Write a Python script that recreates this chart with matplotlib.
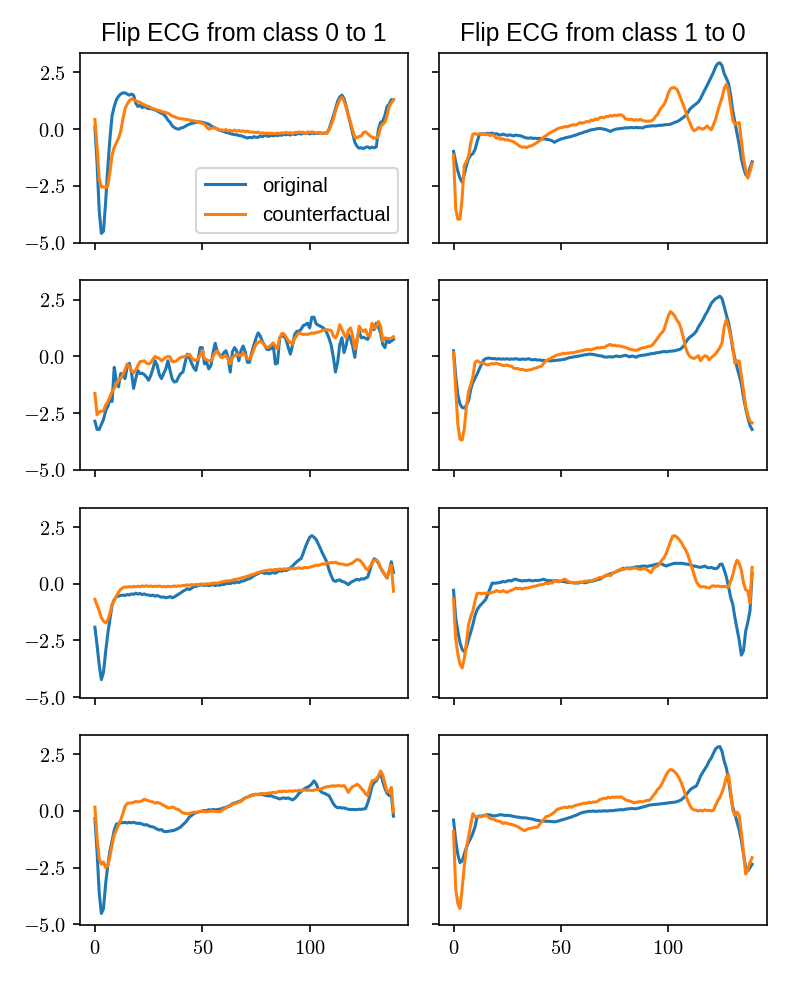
import matplotlib
matplotlib.use("Agg")
import matplotlib.pyplot as plt
from matplotlib.ticker import FuncFormatter

plt.rcParams["font.family"] = ["Liberation Sans", "DejaVu Sans"]
plt.rcParams["mathtext.fontset"] = "cm"
plt.rcParams["mathtext.default"] = "rm"

# ECG samples (140 points each)
# left column: class 0 -> 1, right column: class 1 -> 0
orig_l1 = [0.10, -1.5, -3.6, -4.6, -4.5, -3.2, -1.7, -0.4, 0.6, 1.0,
           1.3, 1.45, 1.55, 1.6, 1.6, 1.55, 1.5, 1.55, 1.5, 1.15,
           1.0, 1.05, 0.95, 1.0, 0.95, 0.9, 0.92, 0.87, 0.85, 0.8,
           0.75, 0.7, 0.65, 0.55, 0.4, 0.3, 0.15, 0.07, 0.02, 0.0,
           0.05, 0.07, 0.12, 0.18, 0.22, 0.25, 0.27, 0.3, 0.32, 0.32,
           0.3, 0.28, 0.25, 0.22, 0.15, 0.1, 0.05, 0.0, -0.05, -0.08,
           -0.1, -0.14, -0.16, -0.2, -0.22, -0.24, -0.25, -0.28, -0.29, -0.32,
           -0.36, -0.39, -0.36, -0.38, -0.33, -0.36, -0.36, -0.3, -0.33, -0.28,
           -0.29, -0.32, -0.27, -0.3, -0.26, -0.29, -0.25, -0.27, -0.22, -0.25,
           -0.22, -0.26, -0.2, -0.24, -0.22, -0.18, -0.22, -0.17, -0.2, -0.17,
           -0.21, -0.16, -0.2, -0.18, -0.19, -0.16, -0.19, -0.17, -0.17, 0.0,
           0.3, 0.58, 0.9, 1.23, 1.42, 1.5, 1.35, 1.0, 0.6, 0.2,
           -0.2, -0.58, -0.75, -0.84, -0.82, -0.86, -0.8, -0.78, -0.84, -0.79,
           -0.82, -0.78, 0.0, 0.3, 0.35, 0.6, 1.0, 1.1, 1.3, 1.3]
cf_l1 = [0.43, -0.8, -2.2, -2.55, -2.55, -2.58, -2.5, -1.9, -1.15, -0.8,
         -0.6, -0.4, -0.1, 0.43, 0.9, 1.1, 1.25, 1.33, 1.3, 1.25,
         1.22, 1.18, 1.12, 1.08, 1.02, 1.0, 0.95, 0.9, 0.88, 0.84,
         0.82, 0.78, 0.76, 0.73, 0.7, 0.65, 0.58, 0.55, 0.5, 0.48,
         0.46, 0.45, 0.43, 0.43, 0.4, 0.38, 0.37, 0.35, 0.33, 0.3,
         0.25, 0.22, 0.1, 0.0, 0.03, 0.07, 0.04, 0.02, -0.05, -0.03,
         -0.06, -0.02, -0.08, -0.05, -0.1, -0.04, -0.09, -0.06, -0.1, -0.07,
         -0.12, -0.08, -0.13, -0.12, -0.14, -0.15, -0.13, -0.18, -0.16, -0.19,
         -0.17, -0.2, -0.18, -0.19, -0.2, -0.17, -0.19, -0.16, -0.18, -0.14,
         -0.18, -0.15, -0.2, -0.14, -0.16, -0.12, -0.15, -0.13, -0.2, -0.12,
         -0.15, -0.12, -0.14, -0.18, -0.14, -0.17, -0.19, -0.17, -0.18, -0.05,
         0.2, 0.43, 0.8, 1.08, 1.3, 1.41, 1.25, 0.95, 0.6, 0.3,
         -0.05, -0.36, -0.38, -0.32, -0.3, -0.15, -0.12, -0.2, -0.29, -0.35,
         -0.4, -0.38, -0.3, 0.1, 0.22, 0.3, 0.6, 1.0, 1.15, 1.3]
orig_r1 = [-0.98, -1.44, -1.85, -2.16, -2.34, -2.0, -1.6, -1.3, -1.15, -1.08,
           -0.9, -0.55, -0.25, -0.2, -0.22, -0.2, -0.18, -0.2, -0.17, -0.22,
           -0.2, -0.24, -0.26, -0.22, -0.25, -0.28, -0.25, -0.27, -0.3, -0.26,
           -0.28, -0.29, -0.32, -0.36, -0.39, -0.4, -0.38, -0.41, -0.4, -0.42,
           -0.4, -0.43, -0.43, -0.44, -0.46, -0.48, -0.52, -0.58, -0.52, -0.48,
           -0.43, -0.42, -0.38, -0.36, -0.34, -0.32, -0.28, -0.26, -0.22, -0.19,
           -0.16, -0.12, -0.1, -0.06, -0.03, -0.02, 0.0, 0.02, 0.03, 0.02,
           0.0, -0.02, -0.06, -0.1, -0.05, -0.02, 0.01, 0.02, 0.03, 0.04,
           0.06, 0.05, 0.07, 0.07, 0.06, 0.08, 0.06, 0.07, 0.05, 0.1,
           0.12, 0.13, 0.14, 0.15, 0.14, 0.16, 0.17, 0.17, 0.19, 0.2,
           0.2, 0.22, 0.26, 0.3, 0.33, 0.38, 0.45, 0.52, 0.6, 0.72,
           0.88, 0.97, 1.05, 1.12, 1.2, 1.35, 1.55, 1.73, 1.92, 2.12,
           2.31, 2.5, 2.75, 2.89, 2.93, 2.8, 2.45, 2.25, 2.02, 1.5,
           0.8, 0.29, -0.2, -0.7, -1.3, -1.7, -2.0, -2.1, -1.7, -1.44]
cf_r1 = [-1.15, -3.5, -3.97, -3.97, -3.03, -1.6, -1.44, -1.2, -0.6, -0.22,
         -0.2, -0.24, -0.2, -0.23, -0.2, -0.24, -0.22, -0.28, -0.25, -0.3,
         -0.4, -0.38, -0.45, -0.42, -0.48, -0.46, -0.5, -0.52, -0.56, -0.62,
         -0.7, -0.76, -0.8, -0.78, -0.82, -0.76, -0.74, -0.7, -0.64, -0.58,
         -0.52, -0.45, -0.35, -0.29, -0.22, -0.16, -0.1, -0.07, 0.0, 0.04,
         0.07, 0.08, 0.12, 0.1, 0.15, 0.17, 0.2, 0.18, 0.24, 0.29,
         0.26, 0.3, 0.34, 0.32, 0.4, 0.38, 0.45, 0.42, 0.5, 0.53,
         0.5, 0.56, 0.55, 0.6, 0.58, 0.62, 0.6, 0.63, 0.63, 0.58,
         0.46, 0.44, 0.42, 0.44, 0.39, 0.42, 0.4, 0.43, 0.38, 0.36,
         0.35, 0.36, 0.36, 0.42, 0.55, 0.65, 0.85, 0.98, 1.08, 1.3,
         1.6, 1.78, 1.83, 1.83, 1.75, 1.55, 1.3, 1.05, 0.8, 0.5,
         0.29, 0.05, -0.07, -0.02, 0.07, 0.03, 0.0, 0.05, 0.14, 0.05,
         -0.03, 0.2, 0.43, 0.8, 1.1, 1.4, 1.8, 1.98, 1.7, 1.01,
         0.4, 0.22, 0.25, 0.29, -0.5, -1.3, -1.8, -2.16, -1.88, -1.52]

orig_l2 = [-2.86, -3.22, -3.22, -3.0, -2.78, -2.4, -2.2, -1.92, -1.99, -0.48,
           -1.1, -1.34, -0.76, -0.76, -0.98, -0.48, -0.3, -0.69, -1.41, -0.98,
           -0.62, -0.76, -0.74, -0.8, -0.91, -1.05, -0.84, -0.55, -0.19, -0.4,
           -0.8, -0.98, -0.75, -0.55, -0.19, -0.62, -1.0, -1.13, -1.1, -0.9,
           -0.75, -0.69, -0.26, 0.1, -0.04, -0.3, -0.5, -0.62, -0.19, 0.39,
           0.39, -0.33, -0.26, -0.55, -0.4, 0.17, 0.58, 0.2, 0.1, -0.04,
           0.17, 0.25, -0.04, -0.69, 0.2, 0.39, 0.25, -0.19, 0.25, 0.46,
           0.2, -0.26, -0.26, 0.17, 0.5, 0.8, 1.04, 0.9, 0.65, 0.5,
           0.32, 0.3, 0.35, 0.53, -0.33, -0.3, 0.82, 0.9, 0.9, 0.75,
           0.4, 0.1, 0.5, 0.97, 1.11, 1.11, 1.2, 1.36, 1.4, 1.47,
           1.26, 1.73, 1.73, 1.44, 1.38, 1.33, 1.28, 1.2, 1.04, 0.8,
           0.5, -0.04, -0.69, -0.26, 0.53, 0.82, 0.17, 0.5, 0.97, 0.8,
           0.46, -0.04, 0.75, 1.11, 0.82, 0.85, 0.8, 0.75, 0.97, 1.33,
           1.18, 1.47, 1.3, 1.04, 0.53, 0.39, 0.75, 0.61, 0.68, 0.75]
cf_l2 = [-1.63, -2.57, -2.45, -2.42, -2.4, -2.15, -2.0, -1.77, -1.55, -1.41,
         -1.2, -1.05, -0.98, -0.8, -0.6, -0.33, -0.45, -0.62, -0.72, -0.6,
         -0.4, -0.23, -0.22, -0.19, -0.3, -0.33, -0.28, -0.12, 0.0, -0.05,
         -0.09, -0.19, -0.12, -0.04, 0.0, -0.02, -0.23, -0.22, -0.2, -0.1,
         -0.04, -0.02, 0.0, 0.05, 0.1, -0.05, -0.15, -0.19, -0.1, 0.03,
         0.27, -0.1, -0.15, -0.19, -0.2, 0.0, 0.17, 0.25, 0.05, -0.05,
         0.0, 0.03, -0.12, -0.33, -0.05, 0.03, 0.1, 0.05, 0.03, 0.17,
         0.05, -0.1, -0.12, 0.05, 0.3, 0.55, 0.62, 0.68, 0.6, 0.5,
         0.39, 0.42, 0.5, 0.6, 0.45, 0.32, 0.8, 1.01, 1.0, 0.85,
         0.7, 0.61, 0.53, 0.8, 0.92, 1.04, 1.0, 0.97, 0.98, 0.97,
         1.0, 1.04, 1.02, 1.06, 1.07, 1.1, 1.15, 1.16, 1.18, 1.16,
         1.15, 0.9, 0.82, 1.0, 1.4, 1.2, 0.97, 0.82, 1.15, 1.26,
         0.9, 0.32, 0.6, 1.33, 1.18, 1.1, 1.18, 0.95, 0.9, 1.47,
         1.25, 1.3, 1.54, 1.33, 0.68, 0.82, 0.8, 0.79, 0.8, 0.87]
orig_r2 = [0.25, -0.84, -1.7, -2.1, -2.25, -2.28, -2.15, -1.95, -1.45, -1.15,
           -0.95, -0.78, -0.55, -0.35, -0.16, -0.1, -0.07, -0.08, -0.1, -0.09,
           -0.12, -0.1, -0.12, -0.11, -0.12, -0.1, -0.13, -0.11, -0.12, -0.1,
           -0.12, -0.14, -0.11, -0.13, -0.12, -0.1, -0.14, -0.15, -0.13, -0.16,
           -0.15, -0.18, -0.17, -0.19, -0.18, -0.2, -0.19, -0.18, -0.17, -0.16,
           -0.15, -0.13, -0.12, -0.08, -0.05, -0.04, -0.02, 0.0, 0.01, 0.03,
           0.05, 0.07, 0.08, 0.1, 0.1, 0.09, 0.07, 0.05, 0.03, 0.02,
           -0.02, -0.03, -0.02, -0.01, -0.03, 0.0, 0.02, -0.01, 0.0, 0.03,
           0.05, 0.02, -0.02, 0.02, 0.0, -0.04, 0.02, 0.04, 0.05, 0.06,
           0.08, 0.1, 0.12, 0.13, 0.15, 0.17, 0.18, 0.2, 0.22, 0.2,
           0.22, 0.23, 0.24, 0.25, 0.28, 0.3, 0.35, 0.45, 0.61, 0.75,
           0.85, 0.92, 1.0, 1.11, 1.3, 1.45, 1.6, 1.8, 1.95, 2.15,
           2.34, 2.45, 2.55, 2.6, 2.66, 2.55, 2.2, 1.83, 1.5, 1.0,
           0.32, -0.1, -0.5, -0.84, -1.2, -1.8, -2.3, -2.7, -3.05, -3.22]
cf_r2 = [0.17, -1.41, -3.0, -3.65, -3.69, -3.2, -2.2, -1.55, -1.25, -0.9,
         -0.26, -0.19, -0.25, -0.29, -0.3, -0.35, -0.38, -0.34, -0.32, -0.33,
         -0.3, -0.34, -0.36, -0.4, -0.4, -0.38, -0.42, -0.43, -0.52, -0.54,
         -0.53, -0.58, -0.57, -0.6, -0.62, -0.6, -0.58, -0.55, -0.52, -0.49,
         -0.45, -0.43, -0.3, -0.19, -0.14, -0.09, -0.04, 0.0, 0.06, 0.08,
         0.1, 0.14, 0.12, 0.15, 0.14, 0.17, 0.16, 0.2, 0.22, 0.24,
         0.25, 0.29, 0.3, 0.31, 0.29, 0.33, 0.35, 0.39, 0.37, 0.4,
         0.39, 0.45, 0.5, 0.53, 0.48, 0.5, 0.46, 0.47, 0.44, 0.42,
         0.4, 0.36, 0.32, 0.3, 0.28, 0.27, 0.3, 0.35, 0.38, 0.39,
         0.42, 0.45, 0.46, 0.55, 0.68, 0.8, 0.95, 1.05, 1.18, 1.5,
         1.8, 1.98, 1.9, 1.78, 1.6, 1.47, 1.2, 0.82, 0.4, 0.15,
         0.0, -0.06, -0.09, -0.03, 0.03, -0.19, -0.05, 0.03, 0.0, -0.14,
         -0.05, 0.03, 0.12, 0.25, 0.39, 0.6, 1.3, 1.62, 1.3, 0.9,
         0.46, -0.3, -0.2, -0.2, -0.84, -1.5, -2.2, -2.6, -2.86, -2.93]

orig_l3 = [-1.92, -2.71, -3.58, -4.23, -3.9, -3.0, -2.2, -1.55, -0.95, -0.7,
           -0.58, -0.55, -0.52, -0.5, -0.52, -0.48, -0.5, -0.45, -0.47, -0.42,
           -0.46, -0.43, -0.48, -0.45, -0.49, -0.5, -0.53, -0.5, -0.55, -0.52,
           -0.56, -0.6, -0.58, -0.62, -0.6, -0.57, -0.62, -0.58, -0.52, -0.46,
           -0.4, -0.33, -0.28, -0.22, -0.26, -0.2, -0.13, -0.12, -0.08, -0.06,
           -0.05, -0.08, -0.05, -0.09, -0.06, -0.04, -0.08, -0.05, -0.07, -0.03,
           -0.04, 0.0, 0.02, 0.0, 0.06, 0.03, 0.08, 0.05, 0.1, 0.12,
           0.15, 0.2, 0.22, 0.28, 0.35, 0.4, 0.45, 0.49, 0.5, 0.45,
           0.48, 0.44, 0.47, 0.5, 0.46, 0.52, 0.58, 0.55, 0.6, 0.58,
           0.62, 0.7, 0.78, 0.88, 0.97, 1.05, 1.11, 1.35, 1.62, 1.85,
           2.05, 2.12, 2.05, 1.95, 1.75, 1.55, 1.33, 1.15, 0.95, 0.61,
           0.35, 0.15, 0.1, 0.15, 0.17, 0.1, 0.08, 0.02, -0.04, 0.05,
           0.1, 0.15, 0.2, 0.16, 0.22, 0.2, 0.25, 0.29, 0.6, 0.9,
           1.1, 1.05, 0.9, 0.7, 0.53, 0.4, 0.25, 0.55, 0.97, 0.5]
cf_l3 = [-0.69, -0.95, -1.2, -1.5, -1.65, -1.73, -1.6, -1.3, -0.9, -0.72,
         -0.55, -0.38, -0.25, -0.18, -0.14, -0.15, -0.13, -0.15, -0.12, -0.14,
         -0.11, -0.13, -0.1, -0.12, -0.09, -0.12, -0.1, -0.13, -0.11, -0.12,
         -0.1, -0.13, -0.12, -0.14, -0.11, -0.13, -0.12, -0.1, -0.12, -0.09,
         -0.11, -0.07, -0.08, -0.05, -0.07, -0.04, -0.06, -0.03, -0.05, -0.02,
         -0.01, -0.03, 0.0, -0.02, 0.01, 0.02, 0.03, 0.02, 0.05, 0.07,
         0.1, 0.11, 0.13, 0.12, 0.16, 0.18, 0.2, 0.22, 0.25, 0.27,
         0.3, 0.33, 0.36, 0.4, 0.42, 0.46, 0.5, 0.52, 0.55, 0.57,
         0.58, 0.6, 0.61, 0.6, 0.63, 0.62, 0.65, 0.63, 0.66, 0.64,
         0.67, 0.65, 0.68, 0.66, 0.68, 0.7, 0.67, 0.7, 0.72, 0.7,
         0.73, 0.76, 0.78, 0.82, 0.8, 0.84, 0.88, 0.86, 0.92, 0.9,
         0.94, 0.92, 0.95, 0.9, 0.88, 0.87, 0.85, 0.82, 0.84, 0.88,
         0.92, 1.0, 1.07, 1.05, 0.97, 0.85, 0.68, 0.61, 0.75, 0.9,
         1.04, 1.05, 0.95, 0.7, 0.55, 0.4, 0.28, 0.6, 0.82, -0.33]
orig_r3 = [-0.29, -1.49, -2.1, -2.6, -2.9, -3.0, -2.8, -2.45, -2.14, -1.8,
           -1.4, -1.15, -1.0, -0.9, -0.8, -0.69, -0.45, -0.2, 0.03, 0.02,
           0.03, 0.04, 0.06, 0.1, 0.08, 0.12, 0.14, 0.12, 0.18, 0.2,
           0.16, 0.14, 0.12, 0.14, 0.13, 0.16, 0.14, 0.12, 0.15, 0.14,
           0.15, 0.17, 0.2, 0.15, 0.13, 0.14, 0.12, 0.14, 0.13, 0.12,
           0.1, 0.1, 0.08, 0.06, 0.06, 0.05, 0.04, 0.03, 0.03, 0.05,
           0.06, 0.04, 0.06, 0.09, 0.1, 0.12, 0.15, 0.18, 0.2, 0.25,
           0.32, 0.36, 0.4, 0.44, 0.46, 0.5, 0.55, 0.58, 0.62, 0.68,
           0.67, 0.7, 0.68, 0.7, 0.72, 0.75, 0.74, 0.76, 0.78, 0.78,
           0.76, 0.78, 0.8, 0.82, 0.85, 0.87, 0.88, 0.87, 0.82, 0.78,
           0.82, 0.85, 0.88, 0.9, 0.9, 0.9, 0.9, 0.89, 0.87, 0.86,
           0.84, 0.8, 0.78, 0.76, 0.74, 0.72, 0.75, 0.78, 0.72, 0.7,
           0.72, 0.68, 0.66, 0.7, 0.85, 0.87, 0.61, 0.3, -0.12, -0.6,
           -0.91, -1.5, -2.0, -2.5, -3.15, -2.95, -2.1, -1.7, -1.2, 0.45]
cf_r3 = [-0.69, -2.42, -3.1, -3.55, -3.72, -3.3, -2.6, -1.8, -1.45, -1.2,
         -0.76, -0.43, -0.42, -0.44, -0.42, -0.43, -0.4, -0.42, -0.38, -0.36,
         -0.3, -0.34, -0.36, -0.3, -0.35, -0.38, -0.32, -0.29, -0.25, -0.19,
         -0.22, -0.2, -0.24, -0.2, -0.19, -0.18, -0.15, -0.12, -0.11, -0.08,
         -0.05, -0.04, -0.02, 0.03, 0.0, 0.04, 0.03, 0.14, 0.1, 0.08,
         0.12, 0.17, 0.2, 0.12, 0.08, 0.05, 0.03, 0.05, 0.06, 0.08,
         0.06, 0.12, 0.1, 0.14, 0.12, 0.16, 0.2, 0.22, 0.28, 0.26,
         0.32, 0.36, 0.39, 0.35, 0.45, 0.49, 0.55, 0.6, 0.65, 0.62,
         0.66, 0.68, 0.65, 0.67, 0.7, 0.68, 0.65, 0.63, 0.66, 0.68,
         0.62, 0.55, 0.49, 0.68, 0.75, 0.78, 0.9, 1.04, 1.15, 1.33,
         1.6, 1.85, 2.1, 2.12, 2.05, 1.95, 1.83, 1.65, 1.5, 1.3,
         1.0, 0.7, 0.4, 0.1, -0.05, -0.14, -0.13, -0.14, -0.17, -0.19,
         -0.12, -0.09, -0.12, -0.1, -0.12, -0.13, -0.12, -0.14, -0.14, 0.1,
         0.39, 0.8, 1.04, 0.9, 0.6, 0.03, -0.26, -0.33, -0.84, 0.72]

orig_l4 = [-0.33, -1.8, -3.6, -4.52, -4.3, -3.2, -2.4, -1.77, -1.3, -0.85,
           -0.58, -0.55, -0.52, -0.52, -0.5, -0.53, -0.5, -0.52, -0.5, -0.53,
           -0.55, -0.54, -0.58, -0.62, -0.6, -0.65, -0.69, -0.7, -0.75, -0.8,
           -0.84, -0.82, -0.9, -0.91, -0.9, -0.88, -0.87, -0.85, -0.8, -0.76,
           -0.7, -0.6, -0.52, -0.4, -0.26, -0.2, -0.12, -0.08, -0.05, -0.02,
           0.0, 0.02, 0.01, 0.06, 0.04, 0.07, 0.05, 0.06, 0.08, 0.1,
           0.14, 0.16, 0.2, 0.25, 0.32, 0.35, 0.38, 0.42, 0.45, 0.52,
           0.58, 0.61, 0.66, 0.7, 0.71, 0.74, 0.72, 0.75, 0.72, 0.7,
           0.68, 0.66, 0.68, 0.63, 0.6, 0.57, 0.53, 0.56, 0.58, 0.55,
           0.58, 0.53, 0.49, 0.55, 0.65, 0.78, 0.85, 0.95, 1.01, 1.05,
           1.11, 1.2, 1.33, 1.2, 0.97, 0.88, 0.8, 0.78, 0.72, 0.68,
           0.5, 0.32, 0.2, 0.14, 0.16, 0.13, 0.14, 0.1, 0.08, 0.06,
           0.07, 0.06, 0.06, 0.08, 0.07, 0.09, 0.1, 0.35, 0.68, 1.1,
           1.26, 1.33, 1.5, 1.73, 1.3, 1.0, 0.78, 0.68, 0.7, -0.23]
cf_l4 = [0.17, -1.2, -2.1, -2.35, -2.25, -2.5, -2.42, -2.0, -1.5, -1.05,
         -0.84, -0.6, -0.4, -0.12, 0.2, 0.33, 0.35, 0.36, 0.38, 0.42,
         0.4, 0.42, 0.45, 0.52, 0.48, 0.45, 0.42, 0.4, 0.35, 0.38,
         0.35, 0.3, 0.25, 0.2, 0.14, 0.14, 0.18, 0.14, 0.08, 0.06,
         -0.02, -0.09, -0.1, -0.12, -0.11, -0.08, -0.05, -0.06, -0.04, -0.02,
         -0.03, -0.02, -0.04, -0.02, 0.0, -0.01, -0.02, -0.03, -0.04, 0.02,
         0.08, 0.14, 0.18, 0.22, 0.29, 0.32, 0.35, 0.39, 0.42, 0.5,
         0.58, 0.61, 0.65, 0.68, 0.7, 0.72, 0.74, 0.75, 0.77, 0.76,
         0.78, 0.79, 0.8, 0.82, 0.8, 0.84, 0.87, 0.85, 0.88, 0.86,
         0.87, 0.89, 0.86, 0.9, 0.88, 0.92, 0.9, 0.93, 0.92, 0.91,
         0.92, 0.9, 0.92, 0.94, 0.96, 0.97, 1.0, 1.04, 1.07, 1.08,
         1.1, 1.11, 1.1, 1.12, 1.11, 1.1, 1.12, 1.0, 0.82, 0.98,
         1.08, 1.11, 1.18, 1.12, 1.0, 0.9, 0.75, 0.68, 1.05, 1.33,
         1.36, 1.4, 1.54, 1.76, 1.6, 1.2, 0.87, 0.85, 1.04, -0.04]
orig_r4 = [-0.4, -1.3, -1.92, -2.28, -2.2, -1.9, -1.6, -1.38, -1.2, -0.98,
           -0.7, -0.25, -0.22, -0.23, -0.2, -0.18, -0.16, -0.18, -0.2, -0.22,
           -0.2, -0.18, -0.16, -0.18, -0.2, -0.19, -0.2, -0.22, -0.24, -0.26,
           -0.27, -0.29, -0.3, -0.3, -0.31, -0.33, -0.35, -0.36, -0.4, -0.41,
           -0.43, -0.45, -0.44, -0.46, -0.45, -0.46, -0.47, -0.48, -0.46, -0.44,
           -0.4, -0.38, -0.35, -0.32, -0.29, -0.26, -0.22, -0.19, -0.15, -0.1,
           -0.07, -0.05, -0.03, -0.01, -0.02, 0.0, -0.02, -0.01, 0.0, -0.01,
           0.01, 0.0, 0.0, 0.02, 0.01, 0.03, 0.04, 0.05, 0.06, 0.05,
           0.08, 0.09, 0.1, 0.11, 0.1, 0.1, 0.12, 0.15, 0.17, 0.2,
           0.22, 0.26, 0.27, 0.28, 0.29, 0.3, 0.31, 0.32, 0.33, 0.34,
           0.36, 0.37, 0.38, 0.39, 0.41, 0.45, 0.49, 0.58, 0.68, 0.8,
           0.92, 1.0, 1.05, 1.1, 1.3, 1.54, 1.7, 1.85, 2.0, 2.2,
           2.34, 2.55, 2.74, 2.82, 2.84, 2.63, 2.2, 1.9, 1.4, 0.7,
           0.17, -0.15, -0.5, -0.84, -1.3, -1.9, -2.5, -2.64, -2.5, -2.35]
cf_r4 = [-0.91, -3.43, -4.08, -4.3, -3.43, -2.42, -1.63, -1.13, -0.6, -0.12,
         -0.26, -0.24, -0.26, -0.25, -0.22, -0.19, -0.25, -0.33, -0.35, -0.38,
         -0.43, -0.45, -0.48, -0.55, -0.52, -0.55, -0.57, -0.6, -0.62, -0.66,
         -0.7, -0.76, -0.82, -0.87, -0.82, -0.78, -0.76, -0.74, -0.72, -0.72,
         -0.6, -0.48, -0.38, -0.25, -0.23, -0.18, -0.12, -0.05, 0.05, 0.1,
         0.12, 0.15, 0.17, 0.15, 0.2, 0.17, 0.22, 0.25, 0.28, 0.3,
         0.32, 0.35, 0.33, 0.39, 0.36, 0.4, 0.39, 0.42, 0.5, 0.53,
         0.56, 0.55, 0.61, 0.58, 0.62, 0.6, 0.62, 0.6, 0.63, 0.56,
         0.5, 0.46, 0.44, 0.4, 0.36, 0.38, 0.4, 0.42, 0.4, 0.44,
         0.46, 0.46, 0.55, 0.68, 0.8, 0.95, 1.04, 1.2, 1.4, 1.6,
         1.75, 1.83, 1.8, 1.72, 1.62, 1.45, 1.25, 1.0, 0.7, 0.46,
         0.25, 0.1, 0.05, 0.03, 0.0, 0.03, 0.0, 0.05, 0.02, 0.03,
         0.0, 0.03, 0.25, 0.46, 0.6, 0.82, 1.1, 1.5, 1.62, 0.9,
         0.03, -0.19, -0.05, -0.2, -1.0, -1.8, -2.78, -2.57, -2.28, -2.06]

originals = [[orig_l1, orig_r1], [orig_l2, orig_r2],
             [orig_l3, orig_r3], [orig_l4, orig_r4]]
counterfactuals = [[cf_l1, cf_r1], [cf_l2, cf_r2],
                   [cf_l3, cf_r3], [cf_l4, cf_r4]]
titles = ["Flip ECG from class 0 to 1", "Flip ECG from class 1 to 0"]

dpi = 147
fig, axes = plt.subplots(4, 2, sharex=True, sharey=True,
                         figsize=(788 / dpi, 985 / dpi), dpi=dpi)
fig.subplots_adjust(left=0.1015, right=0.9734, top=0.9462, bottom=0.0609,
                    wspace=0.092, hspace=0.195)

for r in range(4):
    for c in range(2):
        ax = axes[r, c]
        orig = originals[r][c]
        cf = counterfactuals[r][c]
        assert len(orig) == 140 and len(cf) == 140
        ax.plot(range(len(orig)), orig, label="original")
        ax.plot(range(len(cf)), cf, label="counterfactual")

for c in range(2):
    axes[0, c].set_title(titles[c])

axes[0, 0].legend(loc="lower right")

ax0 = axes[0, 0]
ax0.set_ylim(-5.03, 3.36)
ax0.set_yticks([-5.0, -2.5, 0.0, 2.5])
ax0.set_xticks([0, 50, 100])
ax0.yaxis.set_major_formatter(FuncFormatter(lambda v, p: f"${v:.1f}$"))
ax0.xaxis.set_major_formatter(FuncFormatter(lambda v, p: f"${v:.0f}$"))

fig.savefig("out.png", dpi=dpi)
